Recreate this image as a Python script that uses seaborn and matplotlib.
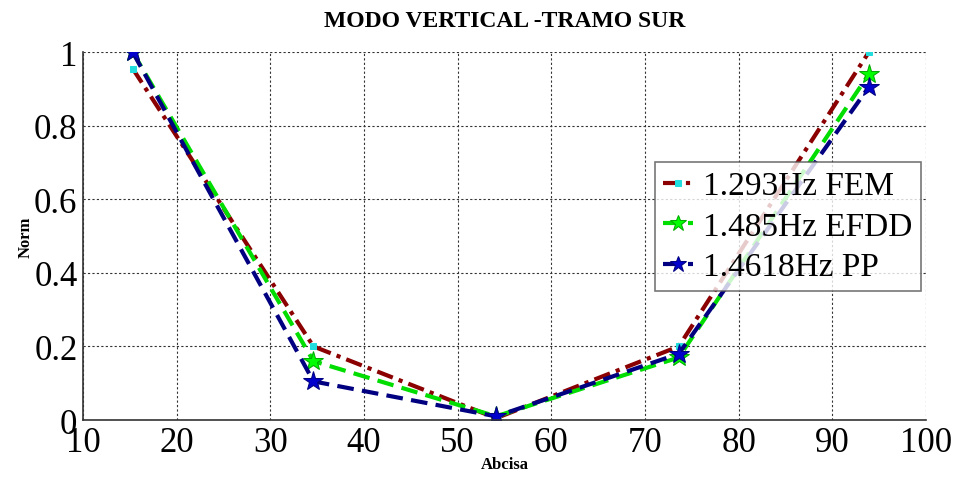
import matplotlib
matplotlib.use("Agg")
import matplotlib.pyplot as plt
import seaborn as sns
import pandas as pd

abscissa = [15.3, 34.6, 54.1, 73.6, 93.9]
fem = [0.955, 0.200, 0.005, 0.200, 1.000]
efdd = [1.000, 0.160, 0.010, 0.170, 0.940]
pp = [1.000, 0.105, 0.010, 0.180, 0.905]
labels = ["1.293Hz FEM", "1.485Hz EFDD", "1.4618Hz PP"]
xticks = [10, 20, 30, 40, 50, 60, 70, 80, 90, 100]
yticks = [0, 0.2, 0.4, 0.6, 0.8, 1]
ytick_labels = ["0", "0.2", "0.4", "0.6", "0.8", "1"]

sns.set_theme(style="white")
plt.rcParams['font.family'] = ['Liberation Serif', 'DejaVu Serif']
plt.rcParams['text.color'] = 'black'
plt.rcParams['axes.labelcolor'] = 'black'

fig = plt.figure(figsize=(9.59, 4.81), dpi=100)
ax = fig.add_axes([0.0866, 0.1247, 0.879, 0.765])

df_fem = pd.DataFrame({"x": abscissa, "y": fem})
df_efdd = pd.DataFrame({"x": abscissa, "y": efdd})
df_pp = pd.DataFrame({"x": abscissa, "y": pp})

sns.lineplot(data=df_fem, x="x", y="y", ax=ax, sort=False, color="#8b0000",
             linestyle=(0, (4, 1.5, 1, 1.5)), linewidth=3, marker="s", markersize=5,
             markerfacecolor="#22dddd", markeredgecolor="#22dddd", label=labels[0])
sns.lineplot(data=df_efdd, x="x", y="y", ax=ax, sort=False, color="#00dd00",
             linestyle=(0, (4, 2)), linewidth=3, marker="*", markersize=15,
             markerfacecolor="#00ff00", markeredgecolor="#00aa00", label=labels[1])
sns.lineplot(data=df_pp, x="x", y="y", ax=ax, sort=False, color="#000080",
             linestyle=(0, (4, 2)), linewidth=3, marker="*", markersize=15,
             markerfacecolor="#0000cc", markeredgecolor="#000080", label=labels[2])

ax.set_xlim(10, 100)
ax.set_ylim(0, 1)
ax.set_xticks(xticks)
ax.set_yticks(yticks)
ax.set_yticklabels(ytick_labels)
ax.tick_params(axis="both", labelsize=25, direction="in", length=4, colors="black")
ax.tick_params(axis="x", pad=4)
ax.tick_params(axis="y", pad=4)
for lab in ax.get_xticklabels() + ax.get_yticklabels():
    lab.set_color("black")

ax.grid(True, linestyle=(0, (2, 2)), color="#333333", linewidth=0.8)
for side in ["top", "right"]:
    ax.spines[side].set_visible(False)
for side in ["left", "bottom"]:
    ax.spines[side].set_color("#333333")
    ax.spines[side].set_linewidth(1.2)

ax.set_title("MODO VERTICAL -TRAMO SUR", fontsize=17, fontweight="bold", pad=19, color="black")
ax.set_xlabel("Abcisa", fontsize=12, fontweight="bold", labelpad=-2, color="black")
ax.set_ylabel("Norm", fontsize=12, fontweight="bold", labelpad=0, color="black")

leg = ax.legend(loc="upper left", bbox_to_anchor=(0.678, 0.70), fontsize=24,
                frameon=True, fancybox=False, handlelength=0.9, handletextpad=0.3,
                borderpad=0.25, labelspacing=0.3, borderaxespad=0, markerscale=0.8)
leg.get_frame().set_edgecolor("#555555")
leg.get_frame().set_linewidth(1.2)
for t in leg.get_texts():
    t.set_color("black")

fig.savefig("out.png", dpi=100)
